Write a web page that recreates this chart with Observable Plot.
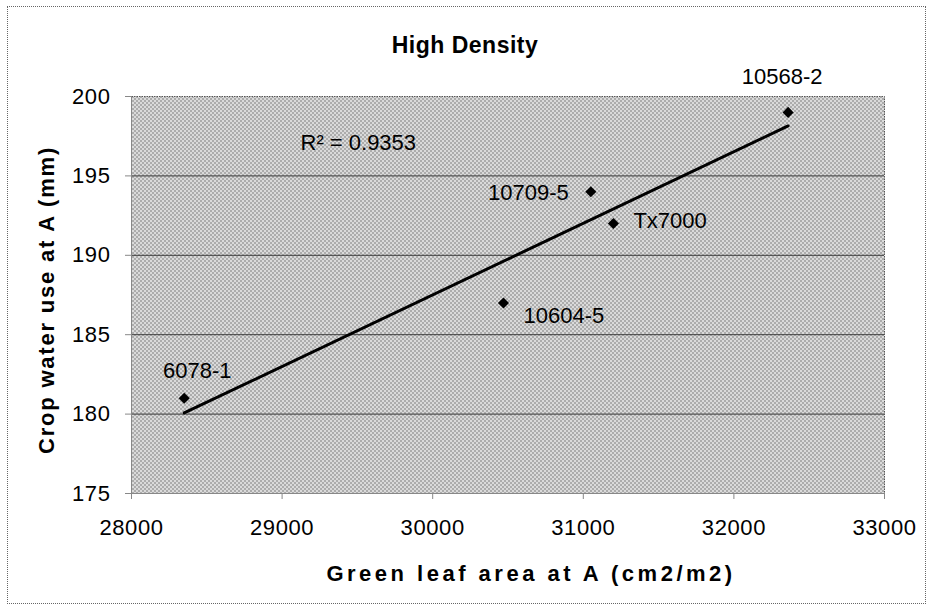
<!DOCTYPE html>
<html><head><meta charset="utf-8">
<script src="https://cdn.jsdelivr.net/npm/d3@7"></script>
<script src="https://cdn.jsdelivr.net/npm/@observablehq/plot@0.6"></script>
<style>
body{margin:0;background:#fff;}
#wrap{position:relative;width:930px;height:608px;font-family:"Liberation Sans",Arial,sans-serif;overflow:hidden;}
#title{height:30px;padding-top:30px;line-height:30px;text-align:center;font-weight:bold;font-size:23px;letter-spacing:0.5px;color:#000;}
#border{position:absolute;left:7px;top:6px;width:917px;height:596px;border:1px dotted #666;pointer-events:none;}
</style></head><body>
<div id="wrap"><div id="border"></div><div id="title"></div><div id="chart"></div></div>
<script>
const titleText = "High Density";
const cultivars = ["6078-1", "10604-5", "10709-5", "Tx7000", "10568-2"];
const leafArea = [28350, 30470, 31050, 31200, 32360];
const waterUse = [181, 187, 194, 192, 199];
const xTicks = [28000, 29000, 30000, 31000, 32000, 33000];
const yTicks = [175, 180, 185, 190, 195, 200];
const gridTicks = [180, 185, 190, 195];
const r2Text = "R² = 0.9353";
const xTitle = "Green leaf area at A (cm2/m2)";
const yTitle = "Crop water use at A (mm)";

document.getElementById("title").textContent = titleText;

const data = cultivars.map((name, i) => ({name, x: leafArea[i], y: waterUse[i]}));

const place = {
  "6078-1": {textAnchor: "middle", dx: 13, dy: -27},
  "10568-2": {textAnchor: "middle", dx: -6, dy: -35},
  "10709-5": {textAnchor: "end", dx: -22, dy: 1},
  "Tx7000": {textAnchor: "start", dx: 20, dy: -3},
  "10604-5": {textAnchor: "start", dx: 20, dy: 13}
};

const xDomain = [xTicks[0], xTicks[xTicks.length - 1]];
const yDomain = [yTicks[0], yTicks[yTicks.length - 1]];

const svg = Plot.plot({
  width: 930,
  height: 548,
  marginLeft: 131,
  marginRight: 46,
  marginTop: 36,
  marginBottom: 115,
  style: {fontFamily: "'Liberation Sans', Arial, sans-serif", color: "#000", background: "transparent", overflow: "visible"},
  x: {domain: xDomain, ticks: xTicks},
  y: {domain: yDomain, ticks: yTicks},
  marks: [
    Plot.frame({fill: "url(#stip)", stroke: "#555", strokeDasharray: "1.5 1"}),
    Plot.gridY(gridTicks, {stroke: "#3a3a3a", strokeOpacity: 1, strokeWidth: 1}),
    Plot.ruleX([xDomain[0]], {stroke: "#888"}),
    Plot.ruleY([yDomain[0]], {stroke: "#888"}),
    Plot.axisX(xTicks, {text: null, tickSize: 6, stroke: "#888", label: null}),
    Plot.axisX(xTicks, {tickSize: 0, tickPadding: 26, fontSize: 22, fill: "#000", tickFormat: d3.format("d"), label: null}),
    Plot.axisY(yTicks, {text: null, tickSize: 6, stroke: "#888", label: null}),
    Plot.axisY(yTicks, {tickSize: 0, tickPadding: 21, fontSize: 22, fill: "#000", tickFormat: d3.format("d"), label: null}),
    Plot.linearRegressionY(data, {x: "x", y: "y", stroke: "#000", strokeWidth: 3, ci: 0}),
    Plot.dot(data, {x: "x", y: "y", symbol: "diamond2", r: 5, fill: "#000", stroke: "none"}),
    ...cultivars.map(c => Plot.text(data.filter(d => d.name === c), {
      x: "x", y: "y", text: "name", fontSize: 22, lineAnchor: "middle", fill: "#000", ...place[c]
    })),
    Plot.text([r2Text], {frameAnchor: "top-left", text: d => d, dx: 169, dy: 46, textAnchor: "start", lineAnchor: "middle", fontSize: 22, fill: "#000"}),
    Plot.text([yTitle], {frameAnchor: "left", text: d => d, rotate: -90, dx: -85, dy: 5, fontSize: 22, fontWeight: "bold", lineAnchor: "middle", textAnchor: "middle", fill: "#000"}),
    Plot.text([xTitle], {frameAnchor: "bottom", text: d => d, dx: 23, dy: 80, fontSize: 22, fontWeight: "bold", lineAnchor: "middle", textAnchor: "middle", fill: "#000"})
  ]
});

const defs = d3.select(svg).insert("defs", ":first-child");
const p = defs.append("pattern").attr("id", "stip").attr("patternUnits", "userSpaceOnUse").attr("width", 4).attr("height", 4);
p.append("rect").attr("width", 4).attr("height", 4).attr("fill", "#dadada");
p.append("rect").attr("x", 0).attr("y", 0).attr("width", 1).attr("height", 1).attr("fill", "#222");
p.append("rect").attr("x", 2).attr("y", 2).attr("width", 1).attr("height", 1).attr("fill", "#222");

svg.querySelectorAll("text").forEach(t => {
  const s = t.textContent;
  if (s === xTitle) t.setAttribute("letter-spacing", "3.5");
  else if (s === yTitle) t.setAttribute("letter-spacing", "1.8");
  else if (/^\d+$/.test(s)) t.setAttribute("letter-spacing", "0.6");
});

document.getElementById("chart").appendChild(svg);
</script>
</body></html>
